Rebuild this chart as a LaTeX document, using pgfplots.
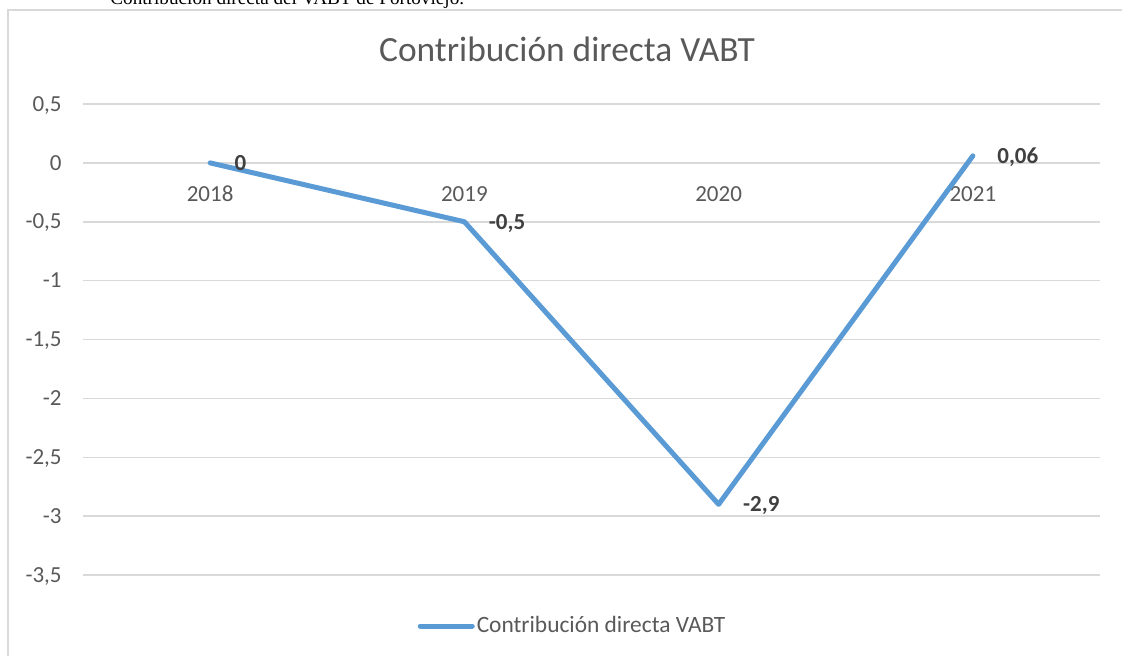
\documentclass[border=0pt]{standalone}
\usepackage{pgfplots}
\pgfplotsset{compat=1.18}
\usepackage{fontspec}
\setmainfont{Carlito}
\newfontfamily\timesfont{Liberation Serif}
\definecolor{gridc}{HTML}{D9D9D9}
\definecolor{txtc}{HTML}{595959}
\definecolor{lblc}{HTML}{404040}
\definecolor{linec}{HTML}{5B9BD5}
\pgfplotstableread{
x y lab
0 0 0
1 -0.5 -0,5
2 -2.9 -2,9
3 0.06 0,06
}\datatable
\begin{document}
\begin{tikzpicture}
\begin{axis}[
  at={(0,0)}, anchor=south west,
  scale only axis,
  width=508.5pt, height=235.5pt,
  xmin=-0.5, xmax=3.5,
  ymin=-3.5, ymax=0.5,
  clip=false,
  axis line style={draw=none},
  tick style={draw=none},
  xtick={0,1,2,3},
  xticklabels={2018,2019,2020,2021},
  ytick={-3.5,-3,-2.5,-2,-1.5,-1,-0.5,0,0.5},
  yticklabels={{-3,5},{-3},{-2,5},{-2},{-1,5},{-1},{-0,5},{0},{0,5}},
  ymajorgrids,
  major grid style={draw=gridc, line width=0.75pt},
  ticklabel style={font=\fontsize{11.5}{13}\selectfont, text=txtc, inner sep=0pt},
  xticklabel style={anchor=base, yshift=187pt},
  yticklabel style={anchor=base east, xshift=-10.5pt, yshift=-3.6pt},
  legend style={at={(axis description cs:0.4813,-0.1083)}, anchor=center, draw=none, fill=none, font=\fontsize{11.7}{13}\selectfont, text=txtc, inner sep=0pt, nodes={inner sep=1pt}},
  legend image code/.code={\draw[#1, line cap=round] (0pt,0pt) -- (26pt,0pt);},
]
\addplot[color=linec, line width=2.5pt, line join=round, line cap=round,
  nodes near coords,
  point meta=explicit symbolic,
  every node near coord/.append style={font=\fontsize{11.5}{13}\selectfont\bfseries, text=lblc, anchor=base west, inner sep=0pt, xshift=11pt, yshift=-3.7pt},
] table[x=x, y=y, meta=lab] {\datatable};
\addlegendentry{Contribución directa VABT}
\node[anchor=base, inner sep=0pt, text=txtc, font=\fontsize{17.7}{20}\selectfont] at (axis description cs:0.476,1.0898) {Contribución directa VABT};
\end{axis}
\draw[gridc, line width=0.75pt] (-37.5pt,-60pt) -- (-37.5pt,282.5pt) -- (540pt,282.5pt);
\node[anchor=base west, inner sep=0pt, font=\timesfont\fontsize{9.6}{11}\selectfont] at (13.5pt,285.5pt) {Contribución directa del VABT de Portoviejo.};
\pgfresetboundingbox
\useasboundingbox (-41.5pt,-40pt) rectangle (519.5pt,287.5pt);
\end{tikzpicture}
\end{document}
